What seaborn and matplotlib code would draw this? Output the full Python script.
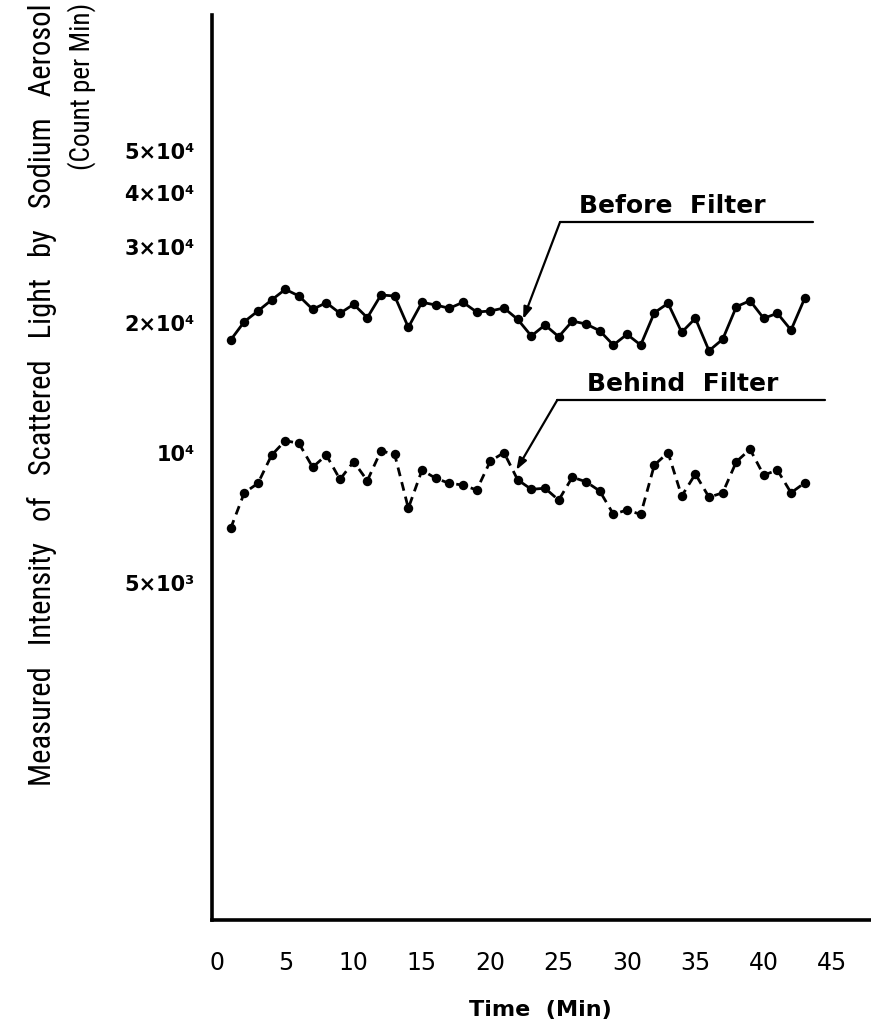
import numpy as np
import pandas as pd
import matplotlib
matplotlib.use("Agg")
import matplotlib.pyplot as plt
import seaborn as sns
from matplotlib import font_manager as fm

# ---------------- data ----------------
time_min = list(range(1, 44))
before_filter = [18260, 20140, 21320, 22610, 23930, 23090, 21510, 22280, 21060, 22090,
                 20570, 23220, 23090, 19540, 22330, 22010, 21630, 22330, 21200, 21320,
                 21660, 20390, 18660, 19790, 18590, 20200, 19890, 19190, 17780, 18830,
                 17780, 21120, 22210, 19030, 20500, 17250, 18340, 21810, 22520, 20500,
                 21060, 19260, 22810]
behind_filter = [6690, 8090, 8510, 9890, 10680, 10530, 9270, 9890, 8690, 9550,
                 8630, 10120, 9930, 7450, 9130, 8740, 8510, 8430, 8210, 9580,
                 10020, 8670, 8240, 8290, 7780, 8790, 8580, 8170, 7220, 7380,
                 7210, 9380, 10020, 7950, 8940, 7900, 8090, 9550, 10200, 8890,
                 9130, 8090, 8530]
x_ticks = [0, 5, 10, 15, 20, 25, 30, 35, 40, 45]
x_ticklabels = ["0", "5", "10", "15", "20", "25", "30", "35", "40", "45"]
y_ticks = [5e3, 1e4, 2e4, 3e4, 4e4, 5e4]
y_ticklabels = ["5×10³", "10⁴", "2×10⁴", "3×10⁴", "4×10⁴", "5×10⁴"]
series_names = ["Before Filter", "Behind Filter"]

df = pd.DataFrame({
    "time": time_min * 2,
    "intensity": before_filter + behind_filter,
    "series": [series_names[0]] * len(time_min) + [series_names[1]] * len(time_min),
})

# ---------------- style ----------------
sns.set_style("white")
plt.rcParams["font.family"] = ["DejaVu Sans"]
for k in ["text.color", "axes.labelcolor", "xtick.color", "ytick.color"]:
    plt.rcParams[k] = "black"

names = {f.name for f in fm.fontManager.ttflist}
narrow = "DejaVu Sans"
for cand in ["Roboto Condensed", "Liberation Sans Narrow", "Open Sans Condensed"]:
    if cand in names:
        narrow = cand
        break

W, H = 871, 1032
fig = plt.figure(figsize=(W / 100, H / 100), dpi=100)
left_px, right_px, bottom_px, top_px = 211.5, 871, 920, 15
ax = fig.add_axes([left_px / W, 1 - bottom_px / H, (right_px - left_px) / W, (bottom_px - top_px) / H])

sns.lineplot(data=df, x="time", y="intensity", style="series", hue="series",
             palette={series_names[0]: "black", series_names[1]: "black"},
             markers={series_names[0]: "o", series_names[1]: "o"},
             dashes={series_names[0]: "", series_names[1]: (3.2, 2.2)},
             linewidth=2.0, markersize=6.8, markeredgewidth=0,
             legend=False, ax=ax)

ax.set_yscale("log")
ax.set_xlim(-0.4, 47.85)
ax.set_ylim(830, 103250)

ax.set_xticks(x_ticks)
ax.set_xticklabels(x_ticklabels, fontsize=17)
ax.set_yticks(y_ticks)
ax.set_yticklabels(y_ticklabels, fontsize=15, fontweight="bold")
ax.yaxis.set_minor_locator(matplotlib.ticker.NullLocator())
ax.tick_params(axis="x", direction="out", length=7, width=1.8, pad=15)
ax.tick_params(axis="y", direction="out", length=9, width=1.8, pad=3)
ax.xaxis.get_major_ticks()[0].tick1line.set_visible(False)

for s in ["top", "right"]:
    ax.spines[s].set_visible(False)
for s in ["left", "bottom"]:
    ax.spines[s].set_linewidth(2.6)
    ax.spines[s].set_color("black")

ax.set_xlabel("")
ax.set_ylabel("")

def leader(text, tip, elbow, end_x, text_xy):
    ax.plot([elbow[0], end_x], [elbow[1], elbow[1]], color="black", lw=1.6)
    ax.annotate("", xy=tip, xytext=elbow,
                arrowprops=dict(arrowstyle="-|>,head_length=0.7,head_width=0.25",
                                color="black", lw=1.6, shrinkA=0, shrinkB=0))
    ax.text(text_xy[0], text_xy[1], text, ha="center", va="center",
            fontsize=18, fontweight="bold")

leader("Before  Filter", (22.4, 20420), (25.1, 34250), 43.6, (33.3, 37310))
leader("Behind  Filter", (21.9, 9134), (24.9, 13265), 44.5, (34.1, 14447))

fig.text(540 / W, 1 - 1010 / H, "Time  (Min)", ha="center", va="center", fontsize=16,
         fontweight="bold")
fig.text(42 / W, 1 - 3 / H,
         "Measured   Intensity   of   Scattered   Light   by   Sodium   Aerosol",
         rotation=90, ha="center", va="top", fontsize=22, family=[narrow, "DejaVu Sans"])
fig.text(82 / W, 1 - 3 / H, "(Count per Min)",
         rotation=90, ha="center", va="top", fontsize=19.5, family=[narrow, "DejaVu Sans"])

fig.savefig("out.png", dpi=100, facecolor="white")
